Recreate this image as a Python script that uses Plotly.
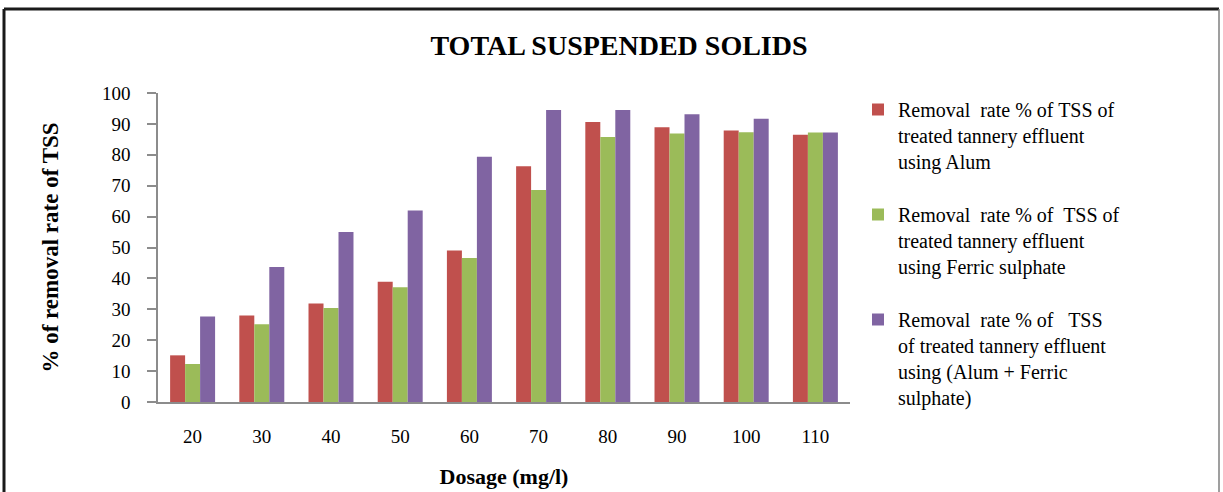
import plotly.graph_objects as go

dosage = ["20", "30", "40", "50", "60", "70", "80", "90", "100", "110"]
alum = [15.1, 28.0, 31.9, 38.9, 49.0, 76.3, 90.6, 88.9, 87.9, 86.5]
ferric = [12.3, 25.2, 30.4, 37.1, 46.6, 68.6, 85.8, 86.9, 87.3, 87.2]
combined = [27.7, 43.7, 55.0, 62.0, 79.4, 94.5, 94.5, 93.1, 91.7, 87.2]

names = [
    "Removal  rate % of TSS of<br>treated tannery effluent<br>using Alum",
    "Removal  rate % of  TSS of<br>treated tannery effluent<br>using Ferric sulphate",
    "Removal  rate % of   TSS<br>of treated tannery effluent<br>using (Alum + Ferric<br>sulphate)",
]
colors = ["#C0504D", "#9BBB59", "#8064A2"]

W, H = 1223, 492
L, R, T, B = 158, 850, 93, 402  # plot area pixel bounds
pw, ph = R - L, B - T

def px(x):
    return (x - L) / pw

def py(y):
    return (B - y) / ph

fig = go.Figure()
for vals, nm, c, g in zip([alum, ferric, combined], names, colors, ["a", "b", "c"]):
    fig.add_trace(go.Bar(x=dosage, y=vals, name=nm, legendgroup=g,
                         marker=dict(color=c, line=dict(width=0))))

serif = "Liberation Serif, Times New Roman, serif"
fig.update_layout(
    width=W, height=H,
    margin=dict(l=L, r=W - R, t=T, b=H - B),
    paper_bgcolor="white", plot_bgcolor="white",
    barmode="group", bargap=0.35, bargroupgap=0,
    font=dict(family=serif, color="black"),
    title=dict(text="<b>TOTAL SUSPENDED SOLIDS</b>", x=px(619), xref="paper",
               xanchor="center", y=1 - 45 / H, yanchor="middle",
               font=dict(size=28, family=serif, color="black")),
    xaxis=dict(showline=True, linecolor="#8c8c8c", linewidth=1.5, automargin=False,
               ticks="", tickfont=dict(size=19), ticklabelstandoff=16,
               title=dict(text="<b>Dosage (mg/l)</b>", font=dict(size=22), standoff=23),
               showgrid=False),
    yaxis=dict(range=[0, 100], dtick=10, showline=True, linecolor="#8c8c8c", linewidth=1.5,
               automargin=False,
               ticks="outside", ticklen=9, tickcolor="#8c8c8c", tickwidth=1.5,
               tickfont=dict(size=19), ticklabelstandoff=13,
               title=dict(text="<b>% of removal rate of TSS</b>", font=dict(size=23), standoff=37),
               showgrid=False, zeroline=False),
    legend=dict(x=px(858), y=py(90), xanchor="left", yanchor="top",
                font=dict(size=20, family=serif), valign="top",
                tracegroupgap=24, traceorder="grouped", itemwidth=30,
                maxheight=480, bgcolor="rgba(0,0,0,0)"),
    showlegend=True,
)

# outer frame
fig.add_shape(type="line", xref="paper", yref="paper", x0=px(4), x1=px(1219), y0=py(9), y1=py(9),
              line=dict(color="#1a1a1a", width=3))
fig.add_shape(type="line", xref="paper", yref="paper", x0=px(4), x1=px(4), y0=py(9), y1=py(495),
              line=dict(color="#1a1a1a", width=3))
fig.add_shape(type="line", xref="paper", yref="paper", x0=px(1219), x1=px(1219), y0=py(9), y1=py(495),
              line=dict(color="#7f7f7f", width=1.5))

fig.write_html("out.html", config={"displayModeBar": False},
               post_script="document.body.style.margin='0';")
